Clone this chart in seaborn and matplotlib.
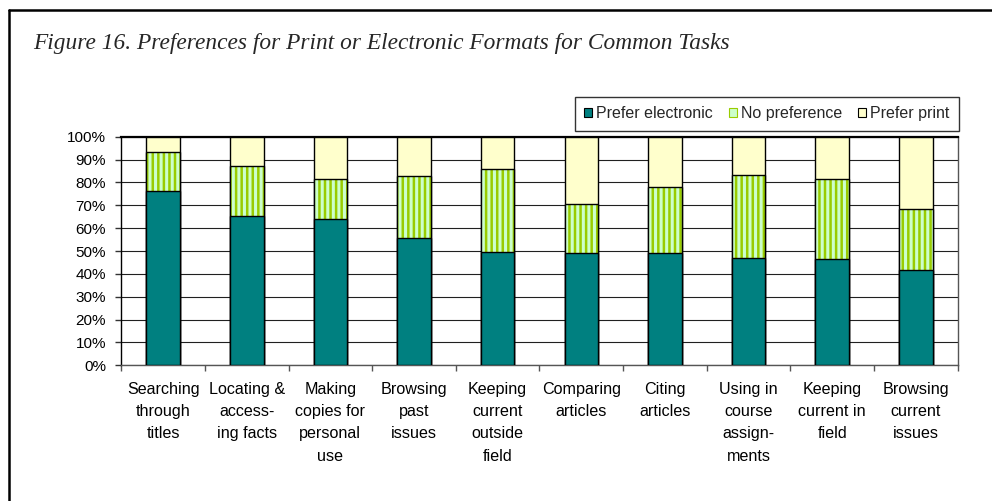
import matplotlib

matplotlib.use("Agg")
import matplotlib.pyplot as plt
import pandas as pd
import seaborn as sns
from matplotlib.lines import Line2D
from matplotlib.patches import Patch, Rectangle
from matplotlib.ticker import FixedLocator

tasks = [
    "Searching\nthrough\ntitles",
    "Locating &\naccess-\ning facts",
    "Making\ncopies for\npersonal\nuse",
    "Browsing\npast\nissues",
    "Keeping\ncurrent\noutside\nfield",
    "Comparing\narticles",
    "Citing\narticles",
    "Using in\ncourse\nassign-\nments",
    "Keeping\ncurrent in\nfield",
    "Browsing\ncurrent\nissues",
]
prefer_electronic = [76.1, 65.4, 64.1, 55.7, 49.4, 49.0, 49.0, 46.9, 46.4, 41.5]
no_preference = [17.1, 21.6, 17.3, 27.0, 36.3, 21.7, 28.8, 36.2, 34.9, 26.7]
prefer_print = [100 - e - n for e, n in zip(prefer_electronic, no_preference)]

series_names = ["Prefer electronic", "No preference", "Prefer print"]
TEAL = "#008080"
STRIPE = "#99CC00"
STRIPE_BG = "#CCFFCC"
PALE = "#FFFFCC"

df = pd.DataFrame(
    {
        "task": tasks,
        "electronic": prefer_electronic,
        "nopref": no_preference,
        "print": prefer_print,
    }
)
# cumulative tops for stacking
df["top_nopref"] = df["electronic"] + df["nopref"]
df["top_print"] = df["top_nopref"] + df["print"]

sns.set_theme(style="white")
plt.rcParams["font.family"] = ["Liberation Sans", "DejaVu Sans"]
plt.rcParams["hatch.linewidth"] = 1.8

fig = plt.figure(figsize=(9.92, 5.01), dpi=100)
ax = fig.add_axes([0.1223, 0.2709, 0.9654 - 0.1223, 0.7271 - 0.2709])

bar_w = 0.4
sns.barplot(data=df, x="task", y="top_print", color=PALE, saturation=1,
            width=bar_w, edgecolor="black", linewidth=1.0, ax=ax, zorder=3)
n_before = len(ax.patches)
sns.barplot(data=df, x="task", y="top_nopref", color=STRIPE_BG, saturation=1,
            width=bar_w, edgecolor=STRIPE, linewidth=0, hatch="|||", ax=ax, zorder=3)
green_bars = ax.patches[n_before:]
sns.barplot(data=df, x="task", y="electronic", color=TEAL, saturation=1,
            width=bar_w, edgecolor="black", linewidth=1.0, ax=ax, zorder=4)

# black outline around the hatched segments
for p in green_bars:
    ax.add_patch(Rectangle(p.get_xy(), p.get_width(), p.get_height(), fill=False,
                           edgecolor="black", linewidth=1.0, zorder=3.5))

ax.set_xlim(-0.5, len(tasks) - 0.5)
ax.set_ylim(0, 100)
ax.set_yticks(range(0, 101, 10))
ax.set_yticklabels([f"{v}%" for v in range(0, 101, 10)], fontsize=11)
ax.set_xticks(range(len(tasks)))
ax.set_xticklabels(tasks, fontsize=11.6, linespacing=1.6)
ax.set_xlabel("")
ax.set_ylabel("")

ax.xaxis.set_minor_locator(FixedLocator([i - 0.5 for i in range(len(tasks) + 1)]))
ax.tick_params(axis="x", which="major", length=0, pad=12, colors="black")
ax.tick_params(axis="x", which="minor", length=4, width=1, color="#555555", direction="out", bottom=True)
ax.tick_params(axis="y", length=4, width=1, color="#333333", direction="out", left=True, pad=7,
               labelcolor="black")

ax.yaxis.grid(True, color="#202020", linewidth=0.8, zorder=0)
ax.set_axisbelow(True)
for side in ["left", "bottom", "right"]:
    ax.spines[side].set_visible(True)
    ax.spines[side].set_color("#555555")
    ax.spines[side].set_linewidth(1.0)
ax.spines["top"].set_color("black")
ax.spines["top"].set_linewidth(1.6)
ax.spines["left"].set_color("black")

handles = [
    Patch(facecolor=TEAL, edgecolor="black", linewidth=0.8),
    Patch(facecolor=STRIPE_BG, edgecolor=STRIPE, hatch="|", linewidth=0.8),
    Patch(facecolor=PALE, edgecolor="black", linewidth=0.8),
]
leg = fig.legend(handles, series_names, loc="upper right", bbox_to_anchor=(959 / 992, 1 - 96.7 / 501),
                 bbox_transform=fig.transFigure, ncol=3, frameon=True, fancybox=False,
                 edgecolor="black", fontsize=11.5, handlelength=0.5, handleheight=0.5,
                 handletextpad=0.25, columnspacing=1.0, borderpad=0.6, borderaxespad=0)
leg.get_frame().set_linewidth(1.0)

fig.text(33 / 992, 1 - 49 / 501, "Figure 16. Preferences for Print or Electronic Formats for Common Tasks",
         family=["Liberation Serif", "DejaVu Serif"], style="italic", fontsize=16.8,
         va="baseline", ha="left")

# page frame: left and top rules
fig.add_artist(Line2D([8.5 / 992, 8.5 / 992], [0, 1 - 9.5 / 501], transform=fig.transFigure,
                      color="black", linewidth=1.8))
fig.add_artist(Line2D([8.5 / 992, 1], [1 - 9.5 / 501, 1 - 9.5 / 501], transform=fig.transFigure,
                      color="black", linewidth=1.8))

fig.savefig("out.png", dpi=100, facecolor="white")
